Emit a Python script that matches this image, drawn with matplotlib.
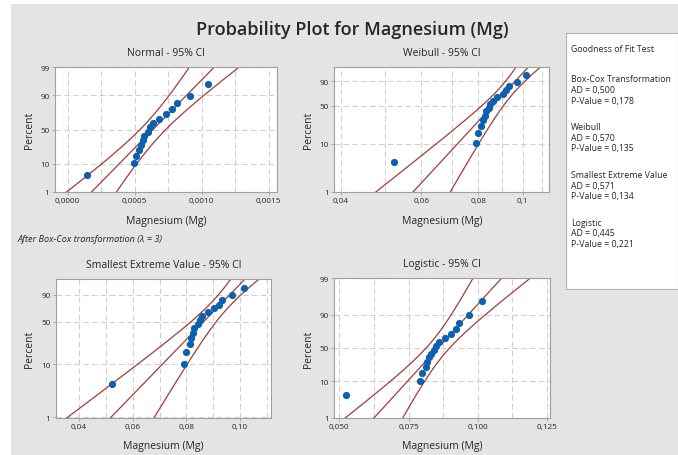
import numpy as np
import matplotlib
matplotlib.use("Agg")
import matplotlib.pyplot as plt
from matplotlib.patches import Rectangle
from statistics import NormalDist

plt.rcParams['font.family'] = ['Open Sans', 'DejaVu Sans']

# magnesium values (sorted), n = 16
mg = [0.0523, 0.0792, 0.0800, 0.0812, 0.0818, 0.0825, 0.0830, 0.0842,
      0.0849, 0.0859, 0.0880, 0.0903, 0.0920, 0.0933, 0.0969, 0.1016]
boxcox_lambda = 3

gof_names = ["Box-Cox Transformation", "Weibull", "Smallest Extreme Value", "Logistic"]
gof_ad = [0.500, 0.570, 0.571, 0.445]
gof_pv = [0.178, 0.135, 0.134, 0.221]

normal_xticks = [0.0, 0.0005, 0.0010, 0.0015]
normal_xlabels = ["0,0000", "0,0005", "0,0010", "0,0015"]
weibull_xticks = [0.04, 0.06, 0.08, 0.1]
weibull_xlabels = ["0,04", "0,06", "0,08", "0,1"]
sev_xticks = [0.04, 0.06, 0.08, 0.10]
sev_xlabels = ["0,04", "0,06", "0,08", "0,10"]
logis_xticks = [0.050, 0.075, 0.100, 0.125]
logis_xlabels = ["0,050", "0,075", "0,100", "0,125"]
pct_ticks_full = [1, 10, 50, 90, 99]
pct_ticks_short = [1, 10, 50, 90]

BLUE = '#0d5fb0'
RED = '#a83a3a'
GRID = '#cfcfcf'
SPINE = '#a0a0a0'
TXT = '#262626'
Z975 = 1.959964
EG = 0.5772156649

_nd = NormalDist()


# ---- probability scales (percent <-> transformed) ----
def _pclip(p):
    p = np.asarray(p, dtype=float) / 100.0
    return np.clip(p, 1e-9, 1 - 1e-9)

def norm_fwd(p):
    p = _pclip(p)
    return np.array([_nd.inv_cdf(v) for v in p.ravel()]).reshape(p.shape)

def norm_inv(z):
    z = np.asarray(z, dtype=float)
    return 100 * np.array([_nd.cdf(v) for v in z.ravel()]).reshape(z.shape)

def sev_fwd(p):
    p = _pclip(p)
    return np.log(-np.log(1 - p))

def sev_inv(w):
    return 100 * (1 - np.exp(-np.exp(np.asarray(w, dtype=float))))

def logis_fwd(p):
    p = _pclip(p)
    return np.log(p / (1 - p))

def logis_inv(w):
    return 100 / (1 + np.exp(-np.asarray(w, dtype=float)))


# ---- ML fits ----
def sev_fit(y):
    y = np.asarray(y, float)
    ym = y.max()
    def g(b):
        w = np.exp((y - ym) / b)
        return np.sum(y * w) / np.sum(w) - y.mean() - b
    lo, hi = 1e-6 * y.std(), 20 * y.std()
    for _ in range(200):
        mid = 0.5 * (lo + hi)
        if g(mid) > 0:
            lo = mid
        else:
            hi = mid
    b = 0.5 * (lo + hi)
    u = ym + b * np.log(np.mean(np.exp((y - ym) / b)))
    n = len(y)
    info = np.array([[1, 1 - EG], [1 - EG, (1 - EG) ** 2 + np.pi ** 2 / 6]]) * n / b ** 2
    return u, b, np.linalg.inv(info)

def logis_fit(y):
    y = np.asarray(y, float)
    def u_for(s):
        lo, hi = y.min() - 10 * s, y.max() + 10 * s
        for _ in range(200):
            mid = 0.5 * (lo + hi)
            if np.sum(np.tanh((y - mid) / (2 * s))) > 0:
                lo = mid
            else:
                hi = mid
        return 0.5 * (lo + hi)
    def h(s):
        z = (y - u_for(s)) / s
        return np.mean(z * np.tanh(z / 2)) - 1
    lo, hi = 1e-4 * y.std(), 20 * y.std()
    for _ in range(100):
        mid = 0.5 * (lo + hi)
        if h(mid) > 0:
            lo = mid
        else:
            hi = mid
    s = 0.5 * (lo + hi)
    u = u_for(s)
    n = len(y)
    cov = np.array([[3 * s ** 2 / n, 0], [0, 9 * s ** 2 / (n * (3 + np.pi ** 2))]])
    return u, s, cov


x = np.array(mg)
n = len(x)
ranks = np.arange(1, n + 1)
pct = 100 * (ranks - 0.3) / (n + 0.4)
p_grid = np.linspace(0.05, 99.95, 600)

# normal on Box-Cox transformed data
t = x ** boxcox_lambda
mu, sd = t.mean(), t.std()
zg = norm_fwd(p_grid)
se = sd * np.sqrt(1 / n + zg ** 2 / (2 * n))
normal_lines = [mu + zg * sd - Z975 * se, mu + zg * sd, mu + zg * sd + Z975 * se]

# weibull = SEV on log scale
wg = sev_fwd(p_grid)
u, b, cov = sev_fit(np.log(x))
q = u + wg * b
se = np.sqrt(cov[0, 0] + wg ** 2 * cov[1, 1] + 2 * wg * cov[0, 1])
weibull_lines = [np.exp(q - Z975 * se), np.exp(q), np.exp(q + Z975 * se)]

# smallest extreme value
u, b, cov = sev_fit(x)
q = u + wg * b
se = np.sqrt(cov[0, 0] + wg ** 2 * cov[1, 1] + 2 * wg * cov[0, 1])
sev_lines = [q - Z975 * se, q, q + Z975 * se]

# logistic
lg = logis_fwd(p_grid)
u, s, cov = logis_fit(x)
q = u + lg * s
se = np.sqrt(cov[0, 0] + lg ** 2 * cov[1, 1])
logis_lines = [q - Z975 * se, q, q + Z975 * se]


fig = plt.figure(figsize=(6.78, 4.56), dpi=100)
fig.patch.set_facecolor('white')
fig.patches.append(Rectangle((11 / 678, 0), 1, 1 - 5 / 456, transform=fig.transFigure,
                             facecolor='#e4e4e4', edgecolor='none', zorder=-10))

def px_axes(l, r, t_, b_):
    return fig.add_axes([l / 678, 1 - b_ / 456, (r - l) / 678, (b_ - t_) / 456])

def style_panel(ax, title, xticks, xlabels, grid_x, yticks, scale, xlim, xlab_y, ylab_x):
    ax.set_yscale('function', functions=scale)
    ax.set_ylim(1, 99)
    ax.set_xlim(*xlim)
    ax.set_facecolor('white')
    ax.set_xticks(xticks)
    ax.set_xticklabels(xlabels)
    ax.set_yticks(yticks)
    ax.set_yticklabels([str(v) for v in yticks])
    ax.yaxis.set_minor_locator(plt.NullLocator())
    ax.xaxis.set_minor_locator(plt.NullLocator())
    for gx in grid_x:
        ax.axvline(gx, color=GRID, lw=0.8, ls=(0, (5, 3)), zorder=0)
    for gy in yticks:
        ax.axhline(gy, color=GRID, lw=0.8, ls=(0, (5, 3)), zorder=0)
    for sp in ax.spines.values():
        sp.set_color(SPINE)
        sp.set_linewidth(0.8)
    ax.tick_params(labelsize=5.9, colors=TXT, length=2.5, width=0.6, pad=1.5)
    ax.tick_params(axis='both', color=SPINE)
    ax.set_title(title, fontsize=7.5, color=TXT, pad=9)
    ax.set_xlabel("Magnesium (Mg)", fontsize=7.5, color=TXT)
    ax.set_ylabel("Percent", fontsize=7.5, color=TXT)
    ax.xaxis.set_label_coords(0.5, xlab_y)
    ax.yaxis.set_label_coords(ylab_x, 0.5)

def draw(ax, xs, lines):
    for ln in lines:
        ax.plot(ln, p_grid, color=RED, lw=0.9, zorder=2)
    ax.scatter(xs, pct, s=27, color=BLUE, zorder=3, linewidths=0)


# Normal (Box-Cox)
ax1 = px_axes(55, 276.7, 68.3, 192.7)
style_panel(ax1, "Normal - 95% CI", normal_xticks, normal_xlabels,
            np.arange(0, 0.0016, 0.00025), pct_ticks_full, (norm_fwd, norm_inv),
            (-0.000095, 0.00156), -0.185, -0.09)
draw(ax1, t, normal_lines)

# Weibull
ax2 = px_axes(334.3, 549.5, 68.3, 192.7)
ax2.set_xscale('log')
style_panel(ax2, "Weibull - 95% CI", weibull_xticks, weibull_xlabels,
            np.arange(0.04, 0.115, 0.01), pct_ticks_short, (sev_fwd, sev_inv),
            (0.0387, 0.1144), -0.185, -0.095)
draw(ax2, x, weibull_lines)

# Smallest extreme value
ax3 = px_axes(56, 270.7, 280, 418.5)
style_panel(ax3, "Smallest Extreme Value - 95% CI", sev_xticks, sev_xlabels,
            np.arange(0.04, 0.115, 0.01), pct_ticks_short, (sev_fwd, sev_inv),
            (0.0314, 0.1114), -0.16, -0.098)
draw(ax3, x, sev_lines)

# Logistic
ax4 = px_axes(334.3, 550.3, 279.3, 418.5)
style_panel(ax4, "Logistic - 95% CI", logis_xticks, logis_xlabels,
            np.arange(0.05, 0.13, 0.0125), pct_ticks_full, (logis_fwd, logis_inv),
            (0.0482, 0.1262), -0.16, -0.093)
draw(ax4, x, logis_lines)

fig.text(352 / 678, 1 - 30 / 456, "Probability Plot for Magnesium (Mg)",
         ha='center', va='center', fontsize=13, fontweight='semibold', color=TXT)
fig.text(18 / 678, 1 - 240 / 456, "After Box-Cox transformation (λ = %d)" % boxcox_lambda,
         ha='left', va='center', fontsize=6.6, style='italic', color=TXT)

# goodness of fit box
box = px_axes(566, 677.5, 34, 290)
box.set_xticks([])
box.set_yticks([])
box.set_facecolor('white')
for sp in box.spines.values():
    sp.set_color('#b5b5b5')
    sp.set_linewidth(0.8)
bx = 571
fs = 6.3
fig.text(bx / 678, 1 - 50 / 456, "Goodness of Fit Test", fontsize=fs, va='center', color=TXT)
for k, name in enumerate(gof_names):
    y0 = 80 + k * 47.8
    fig.text(bx / 678, 1 - y0 / 456, name, fontsize=fs, va='center', color=TXT)
    fig.text(bx / 678, 1 - (y0 + 10.6) / 456, "AD = " + f"{gof_ad[k]:.3f}".replace('.', ','),
             fontsize=fs, va='center', color=TXT)
    fig.text(bx / 678, 1 - (y0 + 21.2) / 456, "P-Value = " + f"{gof_pv[k]:.3f}".replace('.', ','),
             fontsize=fs, va='center', color=TXT)

fig.savefig("out.png", dpi=100, facecolor=fig.get_facecolor())
